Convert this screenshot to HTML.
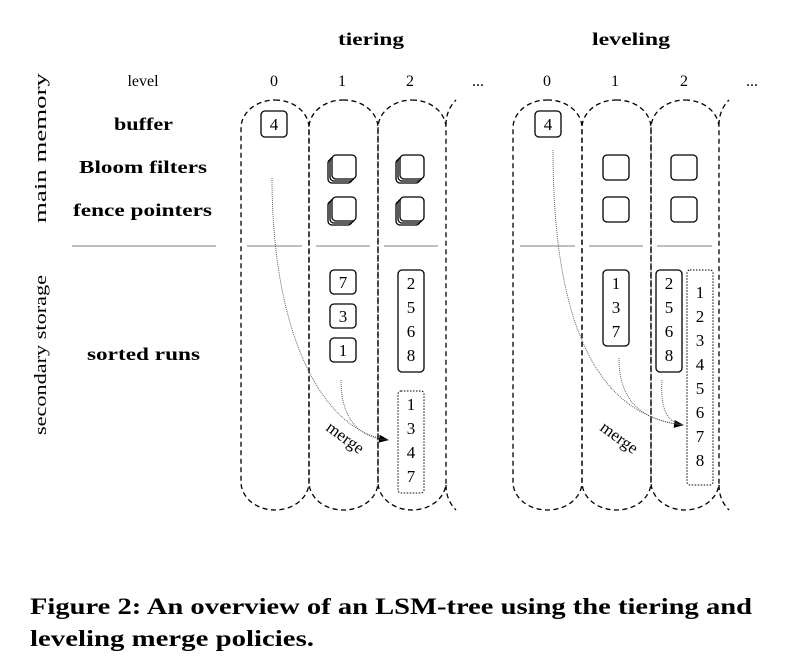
<!DOCTYPE html>
<html><head><meta charset="utf-8"><style>
html,body{margin:0;padding:0;background:#fff;}
svg{display:block;font-family:"Liberation Serif","Times New Roman",serif;}
</style></head><body>
<svg width="795" height="669" viewBox="0 0 795 669" xmlns="http://www.w3.org/2000/svg">
<defs>
<marker id="ah" markerWidth="10" markerHeight="8" refX="9" refY="4" orient="auto" markerUnits="userSpaceOnUse"><path d="M0,0 L10,4 L0,8 z" fill="#000"/></marker>
<g id="stack"><rect x="-4" y="4" width="24" height="24" rx="4" fill="#fff" stroke="#000" stroke-width="1.3"/><rect x="-2" y="2" width="24" height="24" rx="4" fill="#fff" stroke="#000" stroke-width="1.3"/><rect x="0" y="0" width="24" height="24" rx="4" fill="#fff" stroke="#000" stroke-width="1.3"/></g>
</defs>
<g font-weight="bold" font-size="18" text-anchor="middle">
<text x="371" y="45" textLength="66" lengthAdjust="spacingAndGlyphs">tiering</text>
<text x="631" y="45" textLength="78" lengthAdjust="spacingAndGlyphs">leveling</text>
</g>
<g font-size="16" text-anchor="middle">
<text x="143" y="86">level</text>
<text x="274" y="86">0</text><text x="342" y="86">1</text><text x="410" y="86">2</text><text x="478" y="86">...</text>
<text x="547" y="86">0</text><text x="615" y="86">1</text><text x="684" y="86">2</text><text x="752" y="86">...</text>
</g>
<g font-weight="bold" font-size="18">
<text x="114" y="130" textLength="59" lengthAdjust="spacingAndGlyphs">buffer</text>
<text x="79" y="173" textLength="128" lengthAdjust="spacingAndGlyphs">Bloom filters</text>
<text x="73" y="216" textLength="139" lengthAdjust="spacingAndGlyphs">fence pointers</text>
<text x="87" y="360" textLength="113" lengthAdjust="spacingAndGlyphs">sorted runs</text>
</g>
<g font-size="17">
<text transform="translate(46,223) rotate(-90)" textLength="150" lengthAdjust="spacingAndGlyphs">main memory</text>
<text transform="translate(46,435) rotate(-90)" textLength="160" lengthAdjust="spacingAndGlyphs">secondary storage</text>
</g>
<g stroke="#aaa" stroke-width="1.5">
<line x1="72" y1="246" x2="216" y2="246"/>
<line x1="247" y1="246" x2="302" y2="246"/><line x1="316" y1="246" x2="370" y2="246"/><line x1="384" y1="246" x2="438" y2="246"/>
<line x1="520" y1="246" x2="575" y2="246"/><line x1="589" y1="246" x2="643" y2="246"/><line x1="657" y1="246" x2="712" y2="246"/>
</g>
<g fill="none" stroke="#000" stroke-width="1.3" stroke-dasharray="5,3.5">
<rect x="241" y="100" width="68" height="410" rx="34" ry="28"/>
<rect x="309" y="100" width="69" height="410" rx="34" ry="28"/>
<rect x="378" y="100" width="68" height="410" rx="34" ry="28"/>
<path d="M446,125 Q446,110 456,100"/><path d="M446,485 Q446,500 456,510"/>
<rect x="513" y="100" width="69" height="410" rx="34" ry="28"/>
<rect x="582" y="100" width="69" height="410" rx="34" ry="28"/>
<rect x="651" y="100" width="68" height="410" rx="34" ry="28"/>
<path d="M719,125 Q719,110 729,100"/><path d="M719,485 Q719,500 729,510"/>
</g>
<g fill="none" stroke="#000" stroke-width="1.3">
<rect x="261" y="111" width="26" height="26" rx="4"/>
<rect x="535" y="111" width="26" height="26" rx="4"/>
<rect x="603" y="155" width="26" height="25" rx="4"/><rect x="671" y="155" width="26" height="25" rx="4"/>
<rect x="603" y="197" width="26" height="25" rx="4"/><rect x="671" y="197" width="26" height="25" rx="4"/>
<rect x="330" y="270" width="26" height="24" rx="4"/>
<rect x="330" y="304" width="26" height="24" rx="4"/>
<rect x="330" y="338" width="26" height="24" rx="4"/>
<rect x="398" y="270" width="26" height="102" rx="4"/>
<rect x="603" y="270" width="26" height="76" rx="4"/>
<rect x="656" y="270" width="26" height="102" rx="4"/>
<rect x="398" y="391" width="26" height="102" rx="3" stroke-dasharray="1.5,1.5" stroke-width="1"/>
<rect x="687" y="270" width="26" height="215" rx="3" stroke-dasharray="1.5,1.5" stroke-width="1"/>
</g>
<use href="#stack" x="332" y="155"/><use href="#stack" x="400" y="155"/>
<use href="#stack" x="332" y="197"/><use href="#stack" x="400" y="197"/>
<g font-size="17" text-anchor="middle">
<text x="274" y="130">4</text><text x="548" y="130">4</text>
<text x="343" y="288">7</text><text x="343" y="322">3</text><text x="343" y="356">1</text>
<text x="411" y="289">2</text><text x="411" y="313">5</text><text x="411" y="337">6</text><text x="411" y="361">8</text>
<text x="411" y="410">1</text><text x="411" y="434">3</text><text x="411" y="458">4</text><text x="411" y="482">7</text>
<text x="616" y="289">1</text><text x="616" y="313">3</text><text x="616" y="337">7</text>
<text x="669" y="289">2</text><text x="669" y="313">5</text><text x="669" y="337">6</text><text x="669" y="361">8</text>
<text x="700" y="298">1</text><text x="700" y="322">2</text><text x="700" y="346">3</text><text x="700" y="370">4</text><text x="700" y="394">5</text><text x="700" y="418">6</text><text x="700" y="442">7</text><text x="700" y="466">8</text>
</g>
<g fill="none" stroke="#555" stroke-width="0.9" stroke-dasharray="1,1">
<path d="M272,178 C272,330 320,430 388,440" marker-end="url(#ah)"/>
<path d="M341,380 C341,420 360,438 388,440"/>
<path d="M553,150 C553,330 600,415 683,425" marker-end="url(#ah)"/>
<path d="M619,358 C619,400 640,420 683,425"/>
<path d="M662,380 C660,410 668,423 683,425"/>
</g>
<g font-size="17" text-anchor="middle">
<text transform="translate(342,442) rotate(36)">merge</text>
<text transform="translate(616,442) rotate(36)">merge</text>
</g>
<g font-weight="bold" font-size="23">
<text x="30" y="614" textLength="722" lengthAdjust="spacingAndGlyphs">Figure 2: An overview of an LSM-tree using the tiering and</text>
<text x="30" y="646" textLength="284" lengthAdjust="spacingAndGlyphs">leveling merge policies.</text>
</g>
</svg>
</body></html>
